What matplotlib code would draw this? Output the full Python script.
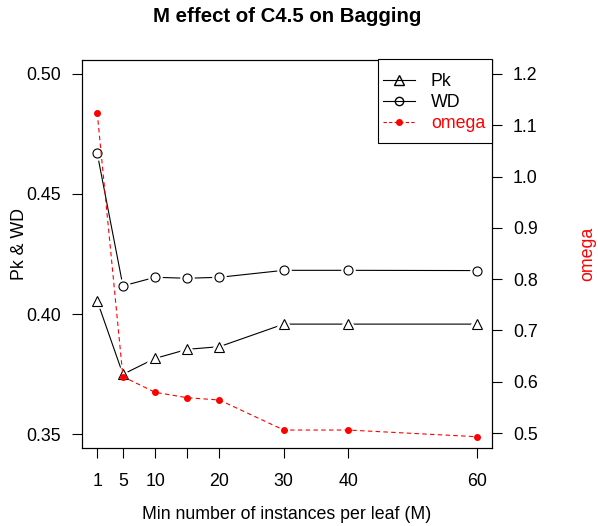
import matplotlib
matplotlib.use("Agg")
import matplotlib.pyplot as plt
from matplotlib.lines import Line2D
from matplotlib.patches import Rectangle

plt.rcParams['font.family'] = ['Liberation Sans', 'DejaVu Sans']
plt.rcParams['font.size'] = 12.8

# data
m_values = [1, 5, 10, 15, 20, 30, 40, 60]
pk = [0.4055, 0.3749, 0.3815, 0.3853, 0.3864, 0.3958, 0.3958, 0.3958]
wd = [0.4670, 0.4117, 0.4153, 0.4149, 0.4153, 0.4182, 0.4182, 0.4181]
omega = [1.1246, 0.610, 0.5795, 0.569, 0.5645, 0.506, 0.506, 0.493]

x_ticks = [1, 5, 10, 15, 20, 30, 40, 60]
x_labels = ["1", "5", "10", "", "20", "30", "40", "60"]
left_ticks = [0.35, 0.40, 0.45, 0.50]
right_ticks = [0.5, 0.6, 0.7, 0.8, 0.9, 1.0, 1.1, 1.2]

W, H = 598, 526
fig = plt.figure(figsize=(W / 100, H / 100), dpi=100)
ax1 = fig.add_axes([82 / W, 1 - 448 / H, 410 / W, 388 / H])
ax2 = ax1.twinx()

# R type="b": line with gaps around the points -> white halo under open markers
for y, mk, ms in [(pk, '^', 7.5), (wd, 'o', 6.5)]:
    ax1.plot(m_values, y, color='black', lw=0.8, zorder=2)
    ax1.plot(m_values, y, ls='none', marker=mk, ms=ms, mfc='white', mec='white',
             mew=4, zorder=3)
    ax1.plot(m_values, y, ls='none', marker=mk, ms=ms, mfc='none', mec='black',
             mew=0.8, zorder=4)

ax2.plot(m_values, omega, color='red', lw=0.8, ls=(0, (4, 3)), marker='o', ms=4,
         mfc='red', mec='red')

ax1.set_xlim(-1.36, 62.36)
ax1.set_ylim(0.3442, 0.5058)
ax2.set_ylim(0.471, 1.227)

ax1.set_xticks(x_ticks)
ax1.set_xticklabels(x_labels)
ax1.set_yticks(left_ticks)
ax1.set_yticklabels(["%.2f" % v for v in left_ticks])
ax2.set_yticks(right_ticks)
ax2.set_yticklabels(["%.1f" % v for v in right_ticks])

for ax in (ax1, ax2):
    ax.tick_params(direction='out', length=7.2, width=0.8, pad=8, labelsize=12.8)
    for s in ax.spines.values():
        s.set_linewidth(0.8)
ax1.tick_params(axis='x', pad=11)

ax1.set_xlabel("Min number of instances per leaf (M)", fontsize=12.8, labelpad=11)
fig.text(19 / W, 1 - 244 / H, "Pk & WD", rotation=90, ha='center', va='center',
         fontsize=12.8)
fig.text(588 / W, 1 - 254 / H, "omega", rotation=90, ha='center', va='center',
         fontsize=12.8, color='red')
fig.text(287 / W, 1 - 17 / H, "M effect of C4.5 on Bagging", ha='center',
         va='center', fontsize=14.7, fontweight='bold')

# legend box like R's legend(): frame drawn separately
fig.add_artist(Rectangle((378 / W, 1 - 143 / H), 114 / W, 84 / H,
                         transform=fig.transFigure, facecolor='white',
                         edgecolor='black', lw=0.8, zorder=3))
handles = [
    Line2D([], [], color='black', lw=0.8, marker='^', ms=7, mfc='none', mec='black'),
    Line2D([], [], color='black', lw=0.8, marker='o', ms=6, mfc='none', mec='black'),
    Line2D([], [], color='red', lw=0.8, ls=(0, (3, 2)), marker='o', ms=4, mfc='red', mec='red'),
]
leg = fig.legend(handles, ["Pk", "WD", "omega"], loc='upper left',
                 bbox_to_anchor=(383 / W, 1 - 73 / H), borderaxespad=0,
                 borderpad=0, frameon=False, fontsize=12.8,
                 handlelength=1.8, handletextpad=0.9, labelspacing=0.22,
                 labelcolor=['black', 'black', 'red'])
leg.set_zorder(4)

fig.savefig("out.png", dpi=100)
